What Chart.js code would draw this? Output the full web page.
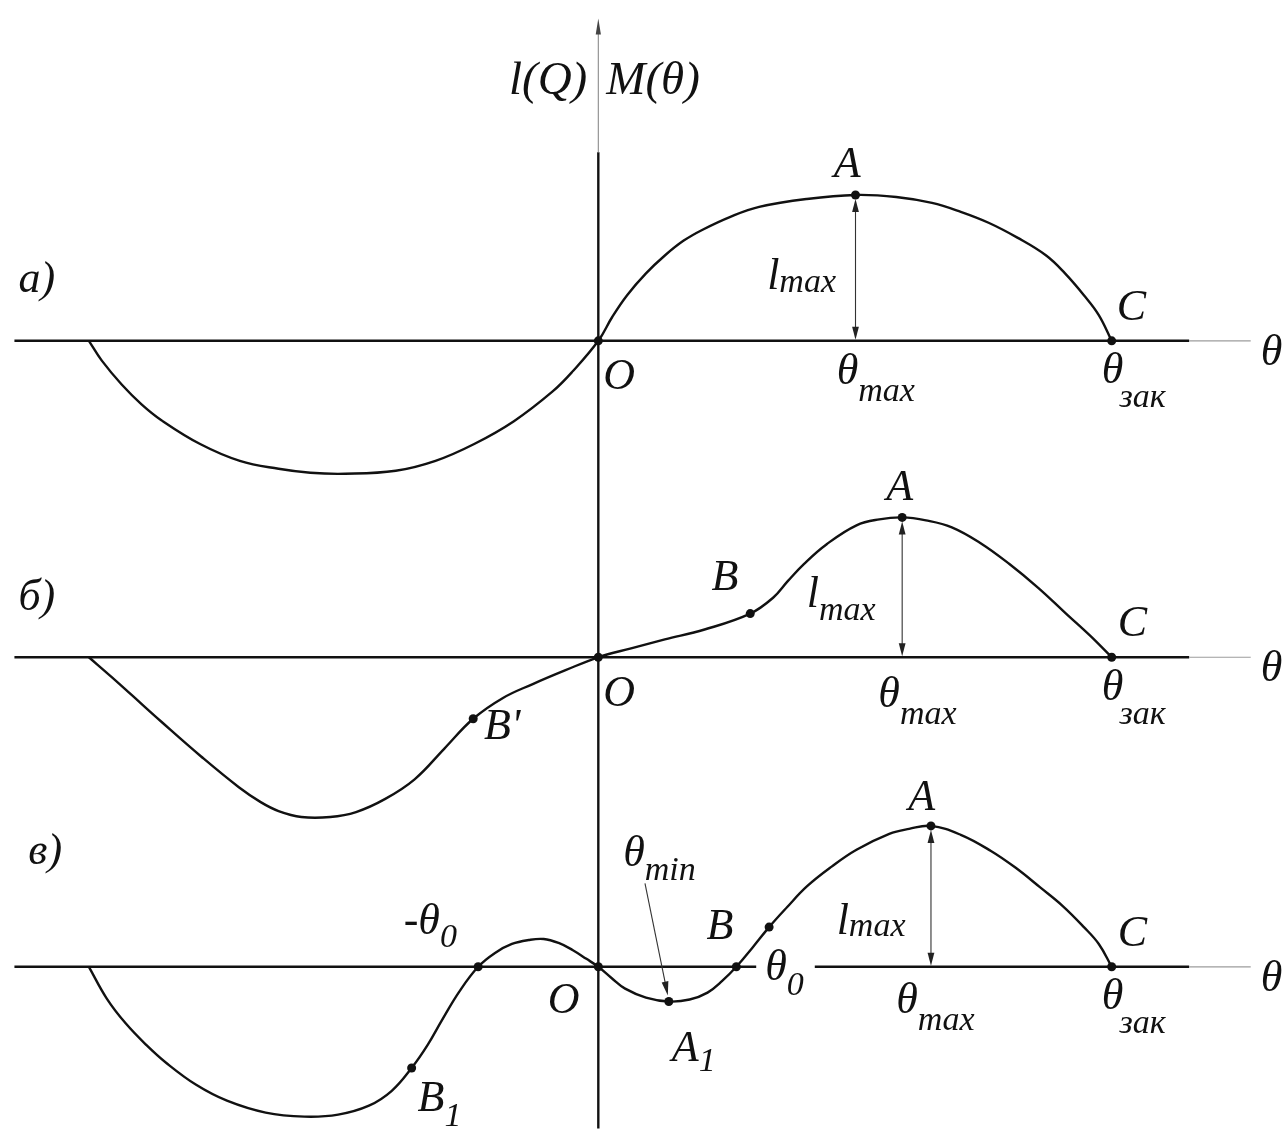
<!DOCTYPE html>
<html lang="ru">
<head>
<meta charset="utf-8">
<title>l(Q), M(θ)</title>
<script src="https://cdn.jsdelivr.net/npm/chart.js@4.4.1/dist/chart.umd.min.js"></script>
<style>
  html, body { margin: 0; padding: 0; background: #fff; }
  #wrap { width: 1286px; height: 1133px; position: relative; }
</style>
</head>
<body>
<div id="wrap"><canvas id="chart"></canvas></div>
<script>
"use strict";

// Curves M(θ): θ along x, moment along y, origin at O in each panel.
const aX = [-513, -500, -480, -460, -440, -401, -361, -322, -290, -255, -204, -164, -125, -85, -46, -26, 0,
  14, 29, 48, 67, 86, 105, 133, 162, 210, 259, 300, 336, 365, 393, 422, 451, 470, 489, 504, 517];
const aY = [0, -20, -44, -64, -80, -104, -121, -129, -133, -134, -131, -121, -104, -81, -51, -31, 0,
  24, 46, 68, 86, 101, 112, 125, 135, 143, 147, 145, 139, 130, 119, 104, 86, 68, 46, 26, 0];

const bX = [-513, -490, -470, -440, -400, -362, -340, -322, -299, -270, -244, -215, -185, -155, -126, -96, -66, -33, 0,
  33, 67, 107, 153, 176, 191, 207, 230, 260, 283, 306, 330, 356, 385, 414, 443, 471, 495, 517];
const bY = [0, -20, -38, -65, -100, -131, -146, -155, -161, -161, -156, -143, -123, -92, -62, -41, -27, -13, 0,
  9, 18, 28, 44, 60, 77, 94, 114, 133, 139, 141, 138, 131, 115, 94, 70, 44, 22, 0];

const cX = [-513, -495, -476, -455, -435, -405, -374, -335, -296, -262, -231, -208, -188, -172, -157, -140, -121,
  -104, -87, -70, -55, -40, -26, -12, 0, 13, 27, 48, 71, 92, 110, 125, 139,
  155, 172, 190, 210, 235, 260, 293, 313, 335, 365, 395, 420, 445, 468, 489, 504, 517];
const cY = [0, -32, -57, -79, -97, -119, -135, -147, -151, -149, -140, -125, -102, -79, -53, -25, 0,
  14, 23, 27, 28, 24, 17, 8, 0, -11, -22, -31, -35, -33, -26, -14, 0,
  19, 40, 60, 81, 101, 118, 134, 139, 142, 133, 117, 100, 80, 61, 40, 23, 0];

// Dotted points, given by their θ on each curve.
const aDotX = [0, 259, 517];                          // O, A, C
const bDotX = [-126, 0, 153, 306, 517];               // B', O, B, A, C
const cDotX = [-188, -121, 0, 71, 139, 172, 335, 517]; // B1, -θ0, O, A1, θ0, B, A, C

// θ of A (l_max) in each panel, and of A1 (θmin).
const aPeakX = 259;
const bPeakX = 306;
const cPeakX = 335;
const cDipX = 71;

// Text: [text, subscript, x, y, sub dx, sub dy]
const aLabels = [
  ["а)", "", -584, 49, 0, 0],
  ["A", "", 237, 165, 0, 0],
  ["l", "max", 170, 52, 0, 3],
  ["C", "", 522, 21, 0, 0],
  ["O", "", 5, -49, 0, 0],
  ["θ", "max", 240, -44, 0, 17],
  ["θ", "зак", 507, -43, -4, 24],
  ["θ", "", 667, -24, 0, 0],
];
const topLabels = [
  ["l(Q)", "", -90, 249, 0, 0],
  ["M(θ)", "", 8, 249, 0, 0],
];
const bLabels = [
  ["б)", "", -584, 48, 0, 0],
  ["A", "", 290, 159, 0, 0],
  ["B", "", 114, 68, 0, 0],
  ["l", "max", 210, 51, 0, 13],
  ["C", "", 523, 21, 0, 0],
  ["O", "", 5, -49, 0, 0],
  ["θ", "max", 282, -50, 0, 17],
  ["θ", "зак", 507, -43, -4, 24],
  ["θ", "", 667, -24, 0, 0],
  ["B'", "", -115, -82, 0, 0],
];
const cLabels = [
  ["в)", "", -574, 104, 0, 0],
  ["A", "", 312, 158, 0, 0],
  ["θ", "min", 25, 102, 0, 14],
  ["B", "", 109, 28, 0, 0],
  ["l", "max", 240, 33, 0, 2],
  ["θ", "0", 168, -13, 0, 15],
  ["C", "", 523, 21, 0, 0],
  ["θ", "max", 300, -47, 0, 17],
  ["θ", "зак", 507, -43, -4, 24],
  ["θ", "", 667, -24, 0, 0],
  ["O", "", -51, -47, 0, 0],
  ["-θ", "0", -196, 33, 0, 13],
  ["A", "1", 74, -95, 0, 10],
  ["B", "1", -182, -145, 0, 15],
];

// Axis layout in data units
const axisStart = -588;
const axisEnd = 595;
const axisTail = 657;
const cAxisGap = [159, 218];
const vAxisTip = 325;     // on panel a's scale
const vAxisThin = 190;
const dipPointerFrom = [47, 84];

const panels = [
  { id: "ya", xs: aX, ys: aY, dotX: aDotX, peakX: aPeakX, labels: aLabels.concat(topLabels),
    axis: [[axisStart, axisEnd]] },
  { id: "yb", xs: bX, ys: bY, dotX: bDotX, peakX: bPeakX, labels: bLabels,
    axis: [[axisStart, axisEnd]] },
  { id: "yc", xs: cX, ys: cY, dotX: cDotX, peakX: cPeakX, labels: cLabels,
    axis: [[axisStart, cAxisGap[0]], [cAxisGap[1], axisEnd]] },
];

const INK = "#111";
const FONT = '"Liberation Serif", "Times New Roman", serif';

// point on a curve by its θ
function at(p, x) {
  const i = p.xs.indexOf(x);
  return { x: p.xs[i], y: p.ys[i] };
}

function line(ctx, x1, y1, x2, y2) {
  ctx.beginPath();
  ctx.moveTo(x1, y1);
  ctx.lineTo(x2, y2);
  ctx.stroke();
}

// Filled arrowhead with its tip at (x, y), pointing along (dx, dy).
function arrowHead(ctx, x, y, dx, dy, len, half) {
  const n = Math.hypot(dx, dy);
  const ux = dx / n, uy = dy / n;
  const bx = x - ux * len, by = y - uy * len;
  ctx.beginPath();
  ctx.moveTo(x, y);
  ctx.lineTo(bx - uy * half, by + ux * half);
  ctx.lineTo(bx + uy * half, by - ux * half);
  ctx.closePath();
  ctx.fill();
}

const diagram = {
  id: "diagram",
  beforeDatasetsDraw(chart) {
    const { ctx, scales } = chart;
    const sx = scales.x;
    ctx.save();
    ctx.lineCap = "butt";

    for (const p of panels) {
      const y0 = scales[p.id].getPixelForValue(0);
      ctx.strokeStyle = INK;
      ctx.lineWidth = 2.6;
      for (const [from, to] of p.axis) {
        line(ctx, sx.getPixelForValue(from), y0, sx.getPixelForValue(to), y0);
      }
      ctx.strokeStyle = "#9c9c9c";
      ctx.lineWidth = 1.2;
      line(ctx, sx.getPixelForValue(axisEnd), y0, sx.getPixelForValue(axisTail), y0);
    }

    // vertical axis: thin near the arrow, heavy below
    const ya = scales.ya;
    const x0 = sx.getPixelForValue(0);
    ctx.strokeStyle = INK;
    ctx.lineWidth = 2.4;
    line(ctx, x0, ya.getPixelForValue(vAxisThin), x0, chart.chartArea.bottom);
    ctx.strokeStyle = "#8a8a8a";
    ctx.lineWidth = 1.1;
    line(ctx, x0, ya.getPixelForValue(vAxisThin), x0, ya.getPixelForValue(vAxisTip) + 8);
    ctx.fillStyle = "#444";
    arrowHead(ctx, x0, ya.getPixelForValue(vAxisTip), 0, -1, 16, 2.6);
    ctx.restore();
  },

  afterDatasetsDraw(chart) {
    const { ctx, scales } = chart;
    const sx = scales.x;
    ctx.save();

    // l_max: double arrow from the θ axis up to A
    for (const p of panels) {
      const sy = scales[p.id];
      const a = at(p, p.peakX);
      const px = sx.getPixelForValue(a.x);
      const yTop = sy.getPixelForValue(a.y) + 4;
      const yBot = sy.getPixelForValue(0) - 1;
      ctx.strokeStyle = "#333";
      ctx.fillStyle = "#222";
      ctx.lineWidth = 1.1;
      line(ctx, px, yTop + 10, px, yBot - 10);
      arrowHead(ctx, px, yTop, 0, -1, 13, 3.4);
      arrowHead(ctx, px, yBot, 0, 1, 13, 3.4);
    }

    // θmin pointer onto A1
    const yc = scales.yc;
    const a1 = at(panels[2], cDipX);
    const fx = sx.getPixelForValue(dipPointerFrom[0]);
    const fy = yc.getPixelForValue(dipPointerFrom[1]);
    const tx = sx.getPixelForValue(a1.x) - 1;
    const ty = yc.getPixelForValue(a1.y) - 6;
    ctx.strokeStyle = "#333";
    ctx.lineWidth = 1.1;
    line(ctx, fx, fy, tx - (tx - fx) * 0.1, ty - (ty - fy) * 0.1);
    arrowHead(ctx, tx, ty, tx - fx, ty - fy, 14, 3.4);

    // labels
    ctx.fillStyle = INK;
    ctx.textAlign = "left";
    ctx.textBaseline = "alphabetic";
    for (const p of panels) {
      const sy = scales[p.id];
      for (const [text, sub, x, y, sdx, sdy] of p.labels) {
        const px = sx.getPixelForValue(x);
        const py = sy.getPixelForValue(y);
        const big = text.length > 2;
        ctx.font = "italic " + (big ? 47 : 44) + "px " + FONT;
        ctx.fillText(text, px, py);
        if (sub) {
          const w = ctx.measureText(text).width;
          ctx.font = "italic 34px " + FONT;
          ctx.fillText(sub, px + w + sdx, py + sdy);
        }
      }
    }
    ctx.restore();
  },
};

const datasets = [];
for (const p of panels) {
  datasets.push({
    data: p.xs.map((x, i) => ({ x, y: p.ys[i] })),
    yAxisID: p.id,
    showLine: true,
    borderColor: INK,
    borderWidth: 2.4,
    pointRadius: 0,
    tension: 0.4,
    clip: false,
  });
}
for (const p of panels) {
  datasets.push({
    data: p.dotX.map((x) => at(p, x)),
    yAxisID: p.id,
    showLine: false,
    pointRadius: 4.5,
    pointBackgroundColor: INK,
    pointBorderWidth: 0,
    clip: false,
  });
}

const hidden = { type: "linear", display: false };

new Chart(document.getElementById("chart"), {
  type: "scatter",
  data: { datasets },
  options: {
    responsive: true,
    maintainAspectRatio: false,
    animation: false,
    events: [],
    layout: { padding: 0 },
    plugins: { legend: { display: false }, tooltip: { enabled: false } },
    scales: {
      x: { ...hidden, min: -598, max: 688 },
      y: { ...hidden, min: 0, max: 1 },
      ya: { ...hidden, min: -794, max: 339 },
      yb: { ...hidden, min: -475, max: 658 },
      yc: { ...hidden, min: -163, max: 970 },
    },
  },
  plugins: [diagram],
});
</script>
</body>
</html>
